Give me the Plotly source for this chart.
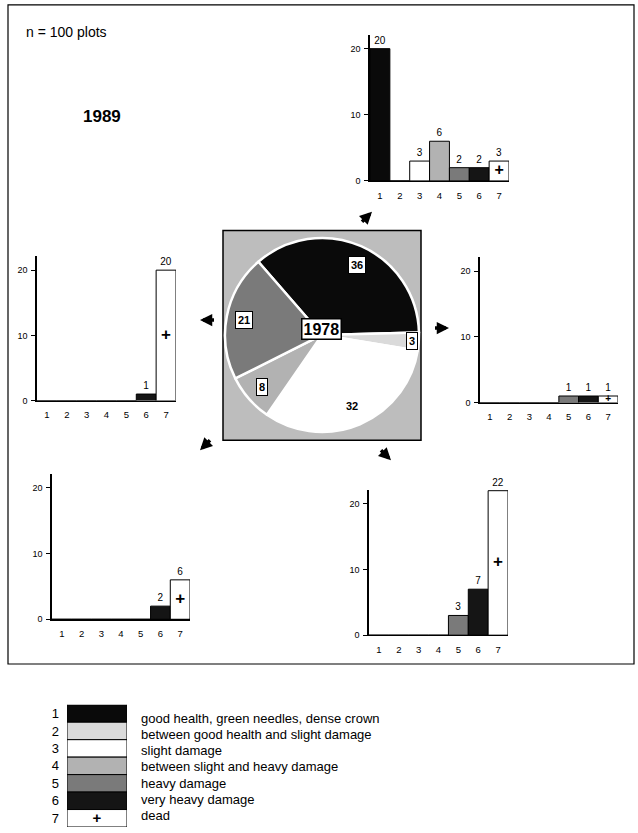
import math
import plotly.graph_objects as go

W, H = 638, 833
FONT = "Liberation Sans, Arial, Helvetica, sans-serif"

# ---------------- data ----------------
CATEGORIES = ["1", "2", "3", "4", "5", "6", "7"]
CATEGORY_NAMES = [
    "good health, green needles, dense crown",
    "between good health and slight damage",
    "slight damage",
    "between slight and heavy damage",
    "heavy damage",
    "very heavy damage",
    "dead",
]
CATEGORY_COLORS = ["#0a0a0a", "#dadada", "#ffffff", "#b2b2b2", "#7a7a7a", "#151515", "#ffffff"]
DEAD_CATEGORY = "7"
DEAD_SYMBOL = "+"

PIE_YEAR = "1978"
PIE_CATEGORIES = ["1", "2", "3", "4", "5"]
PIE_VALUES = [36, 3, 32, 8, 21]

OUTCOME_YEAR = "1989"
OUT_FROM_1 = [20, 0, 3, 6, 2, 2, 3]
OUT_FROM_5 = [0, 0, 0, 0, 0, 1, 20]
OUT_FROM_2 = [0, 0, 0, 0, 1, 1, 1]
OUT_FROM_4 = [0, 0, 0, 0, 0, 2, 6]
OUT_FROM_3 = [0, 0, 0, 0, 3, 7, 22]

Y_TICKS = [0, 10, 20]
SAMPLE_NOTE = "n = 100 plots"


def px(x):
    return x / W


def py(y):
    return 1 - y / H


# panel boxes in pixels: (x_left, x_right, y_top, y_bottom)
panels = [
    (OUT_FROM_1, (370, 509, 35, 182)),
    (OUT_FROM_5, (37, 176, 258, 403)),
    (OUT_FROM_2, (480, 618, 259, 405)),
    (OUT_FROM_4, (52, 190, 477, 623)),
    (OUT_FROM_3, (369, 508, 493, 639)),
]

fig = go.Figure()
layout = {}
cat_color = dict(zip(CATEGORIES, CATEGORY_COLORS))

for k, (vals, (x0, x1, yt, yb)) in enumerate(panels, start=1):
    sfx = "" if k == 1 else str(k)
    xa, ya = "x" + sfx, "y" + sfx
    fig.add_trace(go.Bar(
        x=CATEGORIES, y=vals, width=1,
        marker=dict(color=CATEGORY_COLORS, line=dict(color="black", width=1)),
        text=[str(v) if v else "" for v in vals],
        textposition="outside",
        textfont=dict(size=10, family=FONT, color="black"),
        cliponaxis=False, xaxis=xa, yaxis=ya, hoverinfo="skip",
    ))
    v_dead = vals[CATEGORIES.index(DEAD_CATEGORY)]
    fig.add_trace(go.Scatter(
        x=[DEAD_CATEGORY], y=[v_dead / 2], mode="text",
        text=["<b>" + DEAD_SYMBOL + "</b>"],
        textfont=dict(size=min(17, 7 + 3 * v_dead), family=FONT, color="black"),
        xaxis=xa, yaxis=ya, cliponaxis=False, hoverinfo="skip",
    ))
    layout["xaxis" + sfx] = dict(
        domain=[px(x0), px(x1)], anchor=ya, type="category", range=[-0.5, 6.5],
        showline=True, linecolor="black", linewidth=1.3, ticks="",
        tickfont=dict(size=9.5, family=FONT, color="black"), ticklabelstandoff=5,
        showgrid=False, zeroline=False, fixedrange=True,
    )
    layout["yaxis" + sfx] = dict(
        domain=[py(yb), py(yt)], anchor=xa, range=[0, 22.1], tickvals=Y_TICKS,
        ticks="outside", ticklen=4, tickwidth=1, tickcolor="black",
        showline=True, linecolor="black", linewidth=1.6,
        showgrid=False, zeroline=False, fixedrange=True,
        tickfont=dict(size=9, family=FONT, color="black"), ticklabelstandoff=2,
    )

# ---------------- pie (1978) ----------------
PIE_ROT = -41
PIE_LABEL_RADIUS = [0.9, 0.93, 0.8, 0.82, 0.82]
pie_cx, pie_cy, pie_r = 322, 337, 97
fig.add_trace(go.Pie(
    values=PIE_VALUES, labels=PIE_CATEGORIES, sort=False, direction="clockwise",
    rotation=PIE_ROT, textinfo="none", hoverinfo="skip", showlegend=False,
    marker=dict(colors=[cat_color[c] for c in PIE_CATEGORIES],
                line=dict(color="white", width=2.5)),
    domain=dict(x=[px(pie_cx - pie_r), px(pie_cx + pie_r)],
                y=[py(pie_cy + pie_r + 4), py(pie_cy - pie_r - 4)]),
))

annotations = []
total = sum(PIE_VALUES)
cum = 0
for cat, v, frac in zip(PIE_CATEGORIES, PIE_VALUES, PIE_LABEL_RADIUS):
    mid = math.radians(PIE_ROT + (cum + v / 2) / total * 360)
    cum += v
    lx = pie_cx + frac * pie_r * math.sin(mid)
    ly = pie_cy - frac * pie_r * math.cos(mid)
    boxed = cat_color[cat].lower() != "#ffffff"
    annotations.append(dict(
        x=px(lx), y=py(ly), xref="paper", yref="paper", showarrow=False,
        text="<b>" + str(v) + "</b>", font=dict(size=11, family=FONT, color="black"),
        bgcolor="white" if boxed else "rgba(0,0,0,0)",
        bordercolor="black" if boxed else "rgba(0,0,0,0)",
        borderwidth=1, borderpad=2,
    ))

annotations.append(dict(
    x=px(321), y=py(331), xref="paper", yref="paper", showarrow=False,
    text="<b>" + PIE_YEAR + "</b>", font=dict(size=16, family=FONT, color="black"),
    bgcolor="white", bordercolor="black", borderwidth=1.5, borderpad=1,
))

# ---------------- legend swatches ----------------
fig.add_trace(go.Bar(
    x=[0] * len(CATEGORIES), y=[1] * len(CATEGORIES), base=list(range(len(CATEGORIES))),
    width=1, marker=dict(color=CATEGORY_COLORS, line=dict(color="black", width=1)),
    xaxis="x6", yaxis="y6", hoverinfo="skip",
))
fig.add_trace(go.Scatter(
    x=[0], y=[CATEGORIES.index(DEAD_CATEGORY) + 0.55], mode="text",
    text=["<b>" + DEAD_SYMBOL + "</b>"], textfont=dict(size=15, family=FONT, color="black"),
    xaxis="x6", yaxis="y6", cliponaxis=False, hoverinfo="skip",
))
layout["xaxis6"] = dict(domain=[px(67), px(127)], anchor="y6", range=[-0.5, 0.5],
                        visible=False, fixedrange=True)
layout["yaxis6"] = dict(domain=[py(832), py(709)], anchor="x6", range=[7, 0],
                        tickvals=[i + 0.5 for i in range(len(CATEGORIES))], ticktext=CATEGORIES,
                        ticks="", showline=False, showgrid=False, zeroline=False,
                        tickfont=dict(size=13, family=FONT, color="black"),
                        ticklabelstandoff=7, fixedrange=True)

for i, name in enumerate(CATEGORY_NAMES):
    annotations.append(dict(
        x=px(139), y=py(723 + 16.2 * i), xref="paper", yref="paper", showarrow=False,
        xanchor="left", yanchor="middle", text=name,
        font=dict(size=13, family=FONT, color="black"),
    ))

# ---------------- texts ----------------
annotations.append(dict(x=px(24), y=py(32), xref="paper", yref="paper", showarrow=False,
                        xanchor="left", yanchor="middle", text=SAMPLE_NOTE,
                        font=dict(size=14, family=FONT, color="black")))
annotations.append(dict(x=px(81), y=py(117), xref="paper", yref="paper", showarrow=False,
                        xanchor="left", yanchor="middle", text="<b>" + OUTCOME_YEAR + "</b>",
                        font=dict(size=17, family=FONT, color="black")))

# ---------------- arrows (head, tail offset in px; +ay = tail below head) ----------------
arrows = [
    ((372, 213), (-10, 10)),
    ((200, 322), (14, 0)),
    ((449, 330), (-14, 0)),
    ((200, 453), (10, -10)),
    ((391, 463), (-10, -10)),
]
for (hx, hy), (dx, dy) in arrows:
    annotations.append(dict(
        x=px(hx), y=py(hy), xref="paper", yref="paper", text="", showarrow=True,
        ax=dx, ay=dy, arrowhead=2, arrowsize=0.7, arrowwidth=3.5,
        arrowcolor="black", standoff=0, startstandoff=0,
        font=dict(size=1), borderpad=0, borderwidth=0,
    ))

shapes = [
    dict(type="rect", xref="paper", yref="paper", x0=px(8), x1=px(634), y0=py(668), y1=py(5),
         line=dict(color="black", width=1.2), fillcolor="rgba(0,0,0,0)", layer="below"),
    dict(type="rect", xref="paper", yref="paper", x0=px(223), x1=px(421), y0=py(443), y1=py(232),
         line=dict(color="black", width=1.5), fillcolor="#bdbdbd", layer="below"),
]

fig.update_layout(
    width=W, height=H, autosize=False,
    margin=dict(l=0, r=0, t=0, b=0),
    paper_bgcolor="white", plot_bgcolor="rgba(0,0,0,0)",
    showlegend=False, bargap=0,
    font=dict(family=FONT, color="black"),
    annotations=annotations, shapes=shapes,
    **layout,
)

fig.write_html(
    "out.html",
    config={"displayModeBar": False, "staticPlot": True},
    post_script="document.body.style.margin='0';document.body.style.padding='0';"
                "document.body.style.overflow='hidden';",
)
